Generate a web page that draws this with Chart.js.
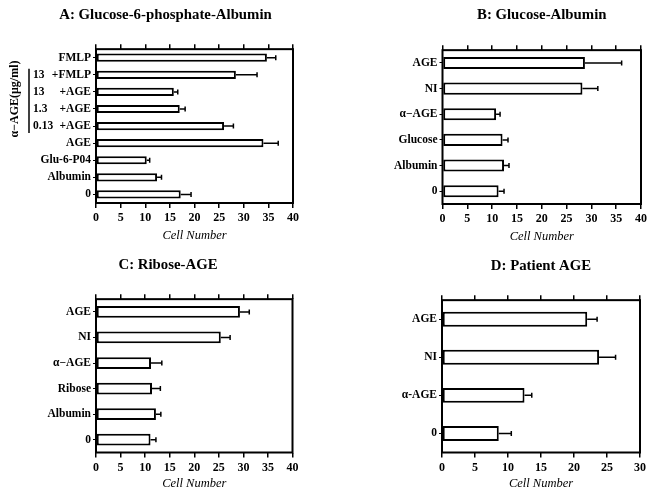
<!DOCTYPE html>
<html>
<head>
<meta charset="utf-8">
<script src="https://cdn.jsdelivr.net/npm/chart.js@4"></script>
<style>
  html, body { margin: 0; padding: 0; background: #fff; overflow: hidden; }
  #wrap { position: relative; width: 647px; height: 491px; overflow: hidden; }
  canvas { position: absolute; }
</style>
</head>
<body>
<div id="wrap">
  <canvas id="chartA" width="336" height="245" style="left:0;top:0"></canvas>
  <canvas id="chartB" width="330" height="245" style="left:336px;top:0"></canvas>
  <canvas id="chartC" width="336" height="246" style="left:0;top:245px"></canvas>
  <canvas id="chartD" width="330" height="246" style="left:336px;top:245px"></canvas>
</div>
<script>
// A: Glucose-6-phosphate-Albumin
const catsA = ['FMLP', '13 +FMLP', '13 +AGE', '1.3 +AGE', '0.13 +AGE', 'AGE', 'Glu-6-P04', 'Albumin', '0'];
const valsA = [34.7, 28.4, 15.8, 17.0, 26.0, 34.0, 10.3, 12.4, 17.2];
const errsA = [1.8, 4.3, 0.8, 1.1, 1.9, 3.0, 0.6, 0.9, 2.1];

// B: Glucose-Albumin
const catsB = ['AGE', 'NI', 'α−AGE', 'Glucose', 'Albumin', '0'];
const valsB = [28.7, 28.2, 10.8, 12.1, 12.4, 11.3];
const errsB = [7.4, 3.1, 0.8, 1.1, 1.0, 1.1];

// C: Ribose-AGE
const catsC = ['AGE', 'NI', 'α−AGE', 'Ribose', 'Albumin', '0'];
const valsC = [29.3, 25.4, 11.2, 11.4, 12.2, 11.1];
const errsC = [1.9, 1.9, 2.2, 1.7, 1.0, 1.1];

// D: Patient AGE
const catsD = ['AGE', 'NI', 'α-AGE', '0'];
const valsD = [22.0, 23.8, 12.5, 8.6];
const errsD = [1.5, 2.5, 1.1, 1.9];

// x tick labels
const ticks40 = [0, 5, 10, 15, 20, 25, 30, 35, 40];
const ticks30 = [0, 5, 10, 15, 20, 25, 30];

const SERIF = '"Liberation Serif", "Times New Roman", serif';
const prefixRe = /^([\d.]+)\s+(.+)$/;

// box around the plot area
const frame = {
    id: 'frame',
    afterDatasetsDraw(chart) {
        const { ctx, chartArea: a } = chart;
        ctx.save();
        ctx.strokeStyle = '#000';
        ctx.lineWidth = 2;
        ctx.strokeRect(a.left, a.top, a.right - a.left, a.bottom - a.top);
        ctx.restore();
    }
};

// one-sided error bars, drawn through the x scale
function errorBars(errs) {
    return {
        id: 'errorBars',
        afterDatasetsDraw(chart) {
            const ctx = chart.ctx;
            const xs = chart.scales.x;
            const vals = chart.data.datasets[0].data;
            ctx.save();
            ctx.strokeStyle = '#000';
            ctx.lineWidth = 1.5;
            chart.getDatasetMeta(0).data.forEach((bar, i) => {
                const x0 = xs.getPixelForValue(vals[i]);
                const x1 = xs.getPixelForValue(vals[i] + errs[i]);
                ctx.beginPath();
                ctx.moveTo(x0, bar.y);
                ctx.lineTo(x1, bar.y);
                ctx.moveTo(x1, bar.y - 2.5);
                ctx.lineTo(x1, bar.y + 2.5);
                ctx.stroke();
            });
            ctx.restore();
        }
    };
}

// panel A: concentrations left-aligned, bracket and rotated label
const alphaBracket = {
    id: 'alphaBracket',
    afterDraw(chart) {
        const ctx = chart.ctx;
        const ys = chart.scales.y;
        ctx.save();
        ctx.fillStyle = '#000';
        ctx.strokeStyle = '#000';
        ctx.font = 'bold 11.5px ' + SERIF;
        ctx.textAlign = 'left';
        ctx.textBaseline = 'middle';
        catsA.forEach((lab, i) => {
            const m = lab.match(prefixRe);
            if (m) ctx.fillText(m[1], 33, ys.getPixelForValue(i));
        });
        const yTop = ys.getPixelForValue(1) - 6;
        const yBot = ys.getPixelForValue(4) + 7;
        ctx.lineWidth = 1.5;
        ctx.beginPath();
        ctx.moveTo(29, yTop);
        ctx.lineTo(29, yBot);
        ctx.stroke();
        ctx.translate(15, 99);
        ctx.rotate(-Math.PI / 2);
        ctx.textAlign = 'center';
        ctx.font = 'bold 12px ' + SERIF;
        ctx.fillText('α−AGE(μg/ml)', 0, 0);
        ctx.restore();
    }
};

function makePanel(id, o) {
    const xTicks = o.ticks;
    const grid = { drawOnChartArea: false, drawTicks: true, tickLength: 5, color: '#000', lineWidth: 1.5 };
    const yTicks = {
        color: '#000',
        font: { family: SERIF, size: 11.5, weight: 'bold' },
        padding: 2,
        autoSkip: false
    };
    if (o.splitLabels) {
        yTicks.callback = function (value) {
            const lab = this.getLabelForValue(value);
            const m = lab.match(prefixRe);
            return m ? m[2] : lab;
        };
    }

    new Chart(document.getElementById(id), {
        type: 'bar',
        data: {
            labels: o.cats,
            datasets: [{
                data: o.vals,
                backgroundColor: '#fff',
                borderColor: '#000',
                borderWidth: 2,
                borderSkipped: false,
                barPercentage: o.barPct,
                categoryPercentage: 1
            }]
        },
        options: {
            indexAxis: 'y',
            responsive: false,
            animation: false,
            layout: { padding: { left: o.padLeft, right: o.padRight, top: 0, bottom: 0 } },
            plugins: {
                legend: { display: false },
                tooltip: { enabled: false },
                title: {
                    display: true,
                    text: o.title,
                    fullSize: o.titleFull,
                    color: '#000',
                    font: { family: SERIF, size: 14.8, weight: 'bold' },
                    padding: { top: o.titleTop, bottom: 0 }
                }
            },
            scales: {
                y: {
                    type: 'category',
                    position: 'left',
                    ticks: yTicks,
                    grid: { offset: false, drawOnChartArea: false, drawTicks: true, tickLength: 3, color: '#000', lineWidth: 1 },
                    border: { display: false },
                    afterFit: s => { s.width = o.leftW; }
                },
                x: {
                    type: 'linear',
                    position: 'bottom',
                    min: xTicks[0],
                    max: xTicks[xTicks.length - 1],
                    afterBuildTicks: s => { s.ticks = xTicks.map(v => ({ value: v })); },
                    ticks: {
                        color: '#000',
                        font: { family: SERIF, size: 12, weight: 'bold' },
                        padding: 3,
                        maxRotation: 0,
                        autoSkip: false
                    },
                    grid: grid,
                    border: { display: false },
                    title: {
                        display: true,
                        text: 'Cell Number',
                        color: '#000',
                        font: { family: SERIF, size: 12.5, style: 'italic' },
                        padding: { top: 0, bottom: o.ctPad }
                    },
                    afterFit: s => { s.height = o.bottomH; }
                },
                x2: {
                    type: 'linear',
                    position: 'top',
                    min: xTicks[0],
                    max: xTicks[xTicks.length - 1],
                    afterBuildTicks: s => { s.ticks = xTicks.map(v => ({ value: v })); },
                    ticks: { display: false },
                    grid: grid,
                    border: { display: false },
                    afterFit: s => { s.height = o.topH; }
                }
            }
        },
        plugins: [frame, errorBars(o.errs)].concat(o.extra || [])
    });
}

makePanel('chartA', {
    title: 'A: Glucose-6-phosphate-Albumin', titleFull: true, titleTop: 6.1,
    cats: catsA, vals: valsA, errs: errsA, ticks: ticks40,
    barPct: 0.48, padLeft: 38, leftW: 58, padRight: 43, topH: 25.3, bottomH: 42, ctPad: 2,
    splitLabels: true, extra: [alphaBracket]
});
makePanel('chartB', {
    title: 'B: Glucose-Albumin', titleFull: false, titleTop: 6.1,
    cats: catsB, vals: valsB, errs: errsB, ticks: ticks40,
    barPct: 0.47, padLeft: 0, leftW: 106.5, padRight: 25, topH: 26.3, bottomH: 41, ctPad: 1
});
makePanel('chartC', {
    title: 'C: Ribose-AGE', titleFull: true, titleTop: 11.1,
    cats: catsC, vals: valsC, errs: errsC, ticks: ticks40,
    barPct: 0.46, padLeft: 43.5, leftW: 52.5, padRight: 43.5, topH: 25.3, bottomH: 38.5, ctPad: 0
});
makePanel('chartD', {
    title: 'D: Patient AGE', titleFull: false, titleTop: 12.1,
    cats: catsD, vals: valsD, errs: errsD, ticks: ticks30,
    barPct: 0.39, padLeft: 0, leftW: 106, padRight: 26, topH: 25.3, bottomH: 38.5, ctPad: 0
});
</script>
</body>
</html>
